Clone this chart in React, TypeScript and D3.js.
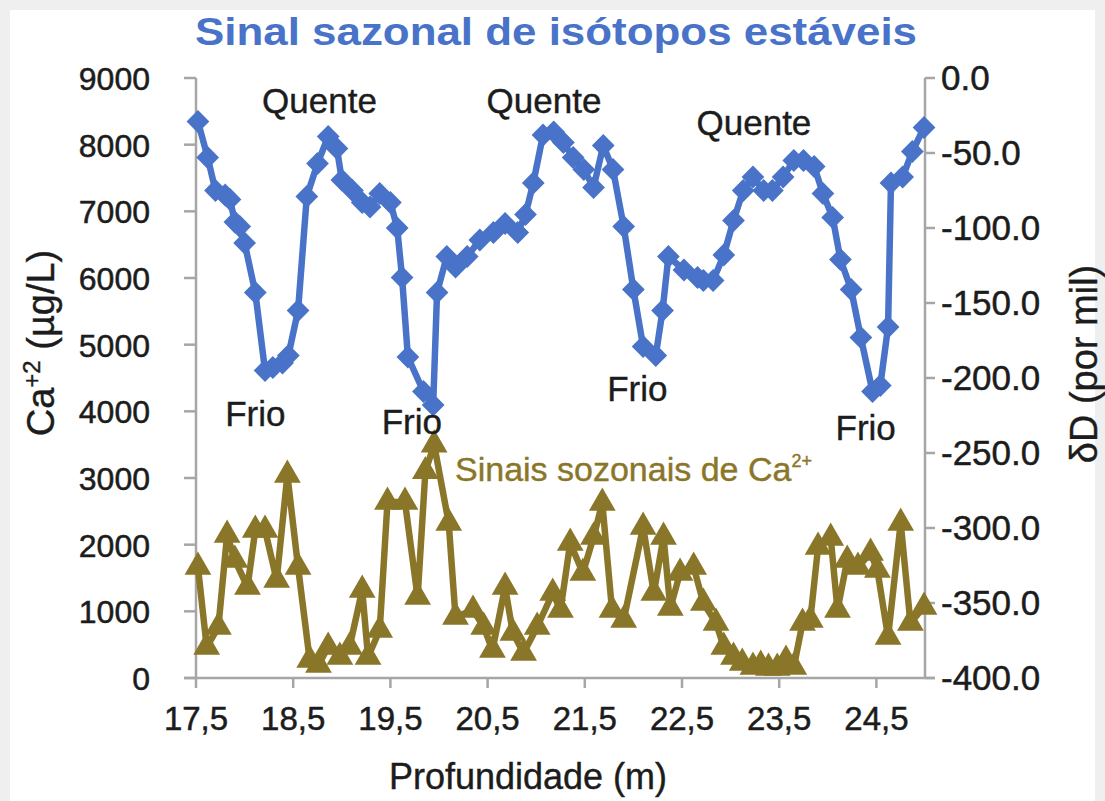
import React from "react";
import * as d3 from "d3";

// Depth (m) and δD (per mil) for the stable-isotope series
const isoDepth = [
  17.52, 17.62, 17.7, 17.8, 17.85, 17.9, 17.95, 18.0, 18.11, 18.21, 18.29, 18.39, 18.45, 18.55,
  18.64, 18.75, 18.86, 18.95, 19.0, 19.11, 19.21, 19.29, 19.39, 19.5, 19.57, 19.62, 19.68, 19.84,
  19.94, 19.98, 20.08, 20.17, 20.29, 20.42, 20.56, 20.68, 20.81, 20.89, 20.97, 21.07, 21.18, 21.28,
  21.38, 21.49, 21.59, 21.69, 21.79, 21.9, 22.0, 22.1, 22.23, 22.3, 22.36, 22.52, 22.66, 22.72,
  22.82, 22.93, 23.03, 23.13, 23.23, 23.34, 23.43, 23.54, 23.65, 23.75, 23.86, 23.95, 24.05, 24.13,
  24.24, 24.34, 24.46, 24.54, 24.62, 24.65, 24.77, 24.87, 24.99,
];
const isoDelta = [
  -29, -53, -75, -78, -81, -96, -99, -110, -143, -195, -193, -190, -185, -155,
  -79, -57, -39, -47, -68, -75, -83, -86, -77, -83, -100, -133, -186, -209,
  -218, -143, -119, -126, -119, -108, -103, -97, -103, -91, -70, -38, -36, -43,
  -53, -61, -73, -45, -61, -99, -141, -179, -185, -155, -119, -128, -133, -135,
  -135, -118, -95, -75, -66, -75, -75, -66, -55, -55, -59, -77, -93, -121,
  -141, -173, -209, -205, -166, -70, -66, -49, -33,
];

// Depth (m) and Ca2+ concentration (µg/L)
const caDepth = [
  17.52, 17.61, 17.73, 17.82, 17.9, 18.03, 18.11, 18.21, 18.33, 18.44, 18.55, 18.67, 18.76, 18.86,
  18.98, 19.08, 19.21, 19.27, 19.39, 19.47, 19.65, 19.78, 19.86, 19.95, 20.1, 20.17, 20.35, 20.46,
  20.55, 20.68, 20.76, 20.87, 21.01, 21.17, 21.25, 21.35, 21.48, 21.59, 21.68, 21.78, 21.9, 22.1,
  22.21, 22.31, 22.38, 22.48, 22.62, 22.72, 22.85, 22.93, 23.03, 23.12, 23.23, 23.31, 23.39, 23.48,
  23.57, 23.65, 23.74, 23.82, 23.9, 24.03, 24.1, 24.2, 24.31, 24.44, 24.51, 24.62, 24.75, 24.85,
  24.99,
];
const caValue = [
  1665, 465, 765, 2145, 1770, 1365, 2220, 2220, 1470, 3045, 1665, 270, 195, 465,
  315, 465, 1320, 315, 720, 2640, 2640, 1215, 3100, 3500, 2325, 915, 1020, 765,
  420, 1365, 675, 375, 765, 1275, 1020, 2025, 1575, 2115, 2625, 1020, 870, 2265,
  1275, 2115, 1050, 1575, 1665, 1125, 825, 465, 315, 225, 165, 195, 150, 150,
  270, 165, 825, 870, 1965, 2100, 1020, 1770, 1665, 1875, 1620, 615, 2325, 825,
  1065,
];

const xTicks = [17.5, 18.5, 19.5, 20.5, 21.5, 22.5, 23.5, 24.5];
const leftTicks = [0, 1000, 2000, 3000, 4000, 5000, 6000, 7000, 8000, 9000];
const rightTicks = [0, -50, -100, -150, -200, -250, -300, -350, -400];

const annotations = [
  { text: "Quente", depth: 18.77, delta: -15 },
  { text: "Quente", depth: 21.08, delta: -15 },
  { text: "Quente", depth: 23.24, delta: -30 },
  { text: "Frio", depth: 18.11, delta: -224 },
  { text: "Frio", depth: 19.72, delta: -229 },
  { text: "Frio", depth: 22.04, delta: -207 },
  { text: "Frio", depth: 24.39, delta: -233 },
];

const BLUE = "#4873c8";
const OLIVE = "#8a7628";
const AXIS = "#a6a6a6";
const INK = "#1c1c1c";
const FONT = "'Liberation Sans', Arial, Helvetica, sans-serif";

export default function App() {
  const W = 1105;
  const H = 801;
  const left = 196;
  const right = 925;
  const top = 78;
  const bottom = 678;

  const x = d3.scaleLinear().domain([17.5, 25]).range([left, right]);
  const yL = d3.scaleLinear().domain([0, 9000]).range([bottom, top]);
  const yR = d3.scaleLinear().domain([-400, 0]).range([bottom, top]);

  const isoPts = isoDepth.map((d, i) => [x(d), yR(isoDelta[i])] as [number, number]);
  const caPts = caDepth.map((d, i) => [x(d), yL(caValue[i])] as [number, number]);
  const line = d3.line();

  const diamond = d3.symbol().type(d3.symbolDiamond2).size(330)()!;
  const tri = d3.symbol().type(d3.symbolTriangle).size(310)()!;

  const fmtX = (v: number) => v.toFixed(1).replace(".", ",");
  const fmtR = (v: number) => (v === 0 ? "0.0" : v.toFixed(1));

  return (
    <svg
      width={W}
      height={H}
      style={{ position: "absolute", left: 0, top: 0, display: "block" }}
      fontFamily={FONT}
    >
      <rect x={0} y={0} width={W} height={H} fill="#efefef" />
      <rect x={10} y={10} width={W - 20} height={H - 10} fill="#ffffff" />

      <text
        x={556}
        y={45}
        textAnchor="middle"
        fontSize={38}
        fontWeight="bold"
        fill={BLUE}
        textLength={722}
        lengthAdjust="spacingAndGlyphs"
      >
        Sinal sazonal de isótopos estáveis
      </text>

      {/* axes */}
      <g stroke={AXIS} strokeWidth={2.5} fill="none">
        <line x1={left} y1={top} x2={left} y2={bottom} />
        <line x1={right} y1={top} x2={right} y2={bottom} />
        <line x1={left - 12} y1={bottom} x2={right + 10} y2={bottom} />
        {leftTicks.map((t) => (
          <line key={"lt" + t} x1={left - 12} x2={left} y1={yL(t)} y2={yL(t)} />
        ))}
        {rightTicks.map((t) => (
          <line key={"rt" + t} x1={right} x2={right + 10} y1={yR(t)} y2={yR(t)} />
        ))}
        {xTicks.map((t) => (
          <line key={"xt" + t} x1={x(t)} x2={x(t)} y1={bottom} y2={bottom + 10} />
        ))}
      </g>

      <g fill={INK} stroke={INK} strokeWidth={0.5}>
        {leftTicks.map((t) => (
          <text key={"ll" + t} x={150} y={yL(t) + 12} textAnchor="end" fontSize={32}>
            {t}
          </text>
        ))}
        {rightTicks.map((t) => (
          <text key={"rl" + t} x={941} y={yR(t) + 12} textAnchor="start" fontSize={35}>
            {fmtR(t)}
          </text>
        ))}
        {xTicks.map((t) => (
          <text key={"xl" + t} x={x(t)} y={730} textAnchor="middle" fontSize={33}>
            {fmtX(t)}
          </text>
        ))}
      </g>

      <g fill={INK} stroke={INK} strokeWidth={0.4}>
        <text x={528} y={789} textAnchor="middle" fontSize={36}>
          Profundidade (m)
        </text>
        <text transform="translate(54,343) rotate(-90)" textAnchor="middle" fontSize={38}>
          Ca
          <tspan dy={-14} fontSize={24}>+2</tspan>
          <tspan dy={14}> (µg/L)</tspan>
        </text>
        <text transform="translate(1097,364) rotate(-90)" textAnchor="middle" fontSize={38}>
          δD (por mil)
        </text>
      </g>

      {/* Ca2+ series */}
      <path d={line(caPts)!} fill="none" stroke={OLIVE} strokeWidth={6.5} strokeLinejoin="round" />
      {caPts.map(([px, py], i) => (
        <path key={"c" + i} d={tri} transform={`translate(${px},${py})`} fill={OLIVE} />
      ))}

      {/* δD series */}
      <path d={line(isoPts)!} fill="none" stroke={BLUE} strokeWidth={6.5} strokeLinejoin="round" />
      {isoPts.map(([px, py], i) => (
        <path key={"b" + i} d={diamond} transform={`translate(${px},${py})`} fill={BLUE} />
      ))}

      <g fill={INK} stroke={INK} strokeWidth={0.4}>
        {annotations.map((a, i) => (
          <text key={"a" + i} x={x(a.depth)} y={yR(a.delta) + 12} textAnchor="middle" fontSize={35}>
            {a.text}
          </text>
        ))}
      </g>

      <text x={455} y={481} fontSize={34} fill={OLIVE} stroke={OLIVE} strokeWidth={0.4}>
        Sinais sozonais de Ca
        <tspan dy={-14} fontSize={18}>2+</tspan>
      </text>
    </svg>
  );
}
